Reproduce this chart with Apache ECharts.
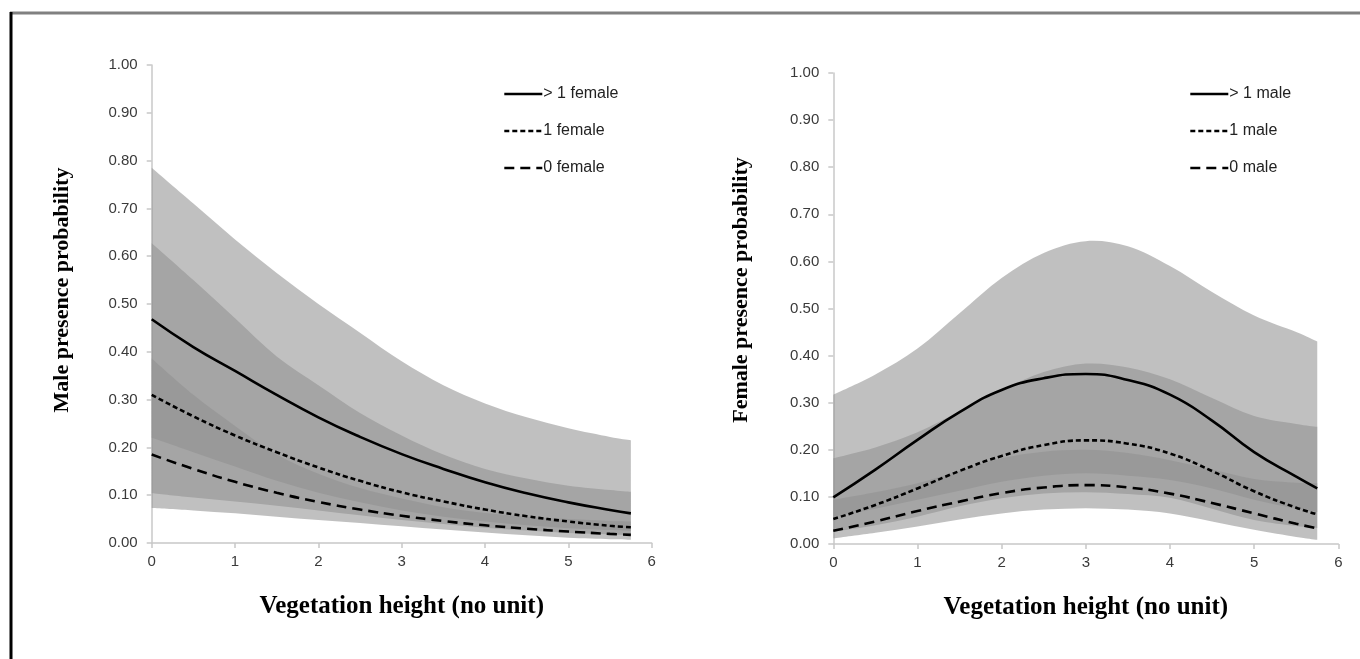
<!DOCTYPE html>
<html>
<head>
<meta charset="utf-8">
<script src="https://cdn.jsdelivr.net/npm/echarts@6/dist/echarts.min.js"></script>
<style>
html,body{margin:0;padding:0;background:#fff;}
#chart{width:1360px;height:659px;}
</style>
</head>
<body>
<div id="chart"></div>
<script>
// ---------- data ----------
const veg = [0, 0.5, 1, 1.5, 2, 2.5, 3, 3.5, 4, 4.5, 5, 5.5, 5.75];
const xTicks = [0, 1, 2, 3, 4, 5, 6];

// Left panel: male presence probability
const leftYTitle = 'Male presence probability';
const leftNames = ['> 1 female', '1 female', '0 female'];
const maleGt1Female = [0.468, 0.41, 0.36, 0.31, 0.263, 0.222, 0.186, 0.155, 0.127, 0.104, 0.085, 0.069, 0.062];
const male1Female   = [0.31, 0.265, 0.225, 0.19, 0.158, 0.13, 0.106, 0.087, 0.07, 0.056, 0.045, 0.036, 0.033];
const male0Female   = [0.185, 0.155, 0.128, 0.105, 0.086, 0.07, 0.057, 0.046, 0.037, 0.03, 0.024, 0.019, 0.017];
const ciGt1FemaleLow  = [0.22, 0.19, 0.16, 0.13, 0.105, 0.085, 0.068, 0.055, 0.045, 0.037, 0.031, 0.027, 0.025];
const ciGt1FemaleHigh = [0.785, 0.71, 0.635, 0.565, 0.5, 0.44, 0.38, 0.33, 0.292, 0.263, 0.24, 0.222, 0.215];
const ci1FemaleLow    = [0.104, 0.095, 0.087, 0.078, 0.068, 0.058, 0.048, 0.04, 0.032, 0.026, 0.021, 0.018, 0.017];
const ci1FemaleHigh   = [0.627, 0.55, 0.47, 0.39, 0.33, 0.272, 0.225, 0.185, 0.155, 0.135, 0.12, 0.111, 0.107];
const ci0FemaleLow    = [0.073, 0.068, 0.062, 0.055, 0.048, 0.042, 0.035, 0.028, 0.022, 0.016, 0.011, 0.008, 0.007];
const ci0FemaleHigh   = [0.386, 0.31, 0.245, 0.185, 0.145, 0.115, 0.093, 0.075, 0.063, 0.055, 0.05, 0.046, 0.045];

// Right panel: female presence probability
const rightYTitle = 'Female presence probability';
const rightNames = ['> 1 male', '1 male', '0 male'];
const femaleGt1Male = [0.099, 0.158, 0.221, 0.28, 0.327, 0.352, 0.361, 0.348, 0.317, 0.262, 0.195, 0.143, 0.118];
const female1Male   = [0.053, 0.083, 0.118, 0.155, 0.187, 0.21, 0.22, 0.213, 0.192, 0.155, 0.112, 0.077, 0.063];
const female0Male   = [0.028, 0.048, 0.07, 0.09, 0.108, 0.12, 0.125, 0.12, 0.107, 0.087, 0.065, 0.043, 0.033];
const ciGt1MaleLow  = [0.058, 0.075, 0.094, 0.113, 0.132, 0.145, 0.15, 0.145, 0.136, 0.118, 0.094, 0.075, 0.068];
const ciGt1MaleHigh = [0.317, 0.36, 0.415, 0.49, 0.565, 0.618, 0.643, 0.632, 0.59, 0.535, 0.485, 0.45, 0.43];
const ci1MaleLow    = [0.026, 0.04, 0.058, 0.08, 0.097, 0.107, 0.11, 0.106, 0.098, 0.075, 0.051, 0.038, 0.034];
const ci1MaleHigh   = [0.182, 0.205, 0.237, 0.282, 0.327, 0.365, 0.383, 0.375, 0.35, 0.31, 0.272, 0.255, 0.249];
const ci0MaleLow    = [0.012, 0.024, 0.037, 0.052, 0.065, 0.073, 0.076, 0.073, 0.065, 0.048, 0.03, 0.015, 0.009];
const ci0MaleHigh   = [0.094, 0.11, 0.129, 0.155, 0.182, 0.196, 0.2, 0.193, 0.178, 0.158, 0.138, 0.13, 0.129];

const xTitle = 'Vegetation height (no unit)';

// ---------- helpers ----------
const bandFill = 'rgba(145,145,145,0.57)';

function smoothSegs(p) {
  let d = '';
  for (let i = 0; i < p.length - 1; i++) {
    const p0 = p[i - 1] || p[i], p1 = p[i], p2 = p[i + 1], p3 = p[i + 2] || p[i + 1];
    const c1 = [p1[0] + (p2[0] - p0[0]) / 6, p1[1] + (p2[1] - p0[1]) / 6];
    const c2 = [p2[0] - (p3[0] - p1[0]) / 6, p2[1] - (p3[1] - p1[1]) / 6];
    d += ' C' + c1[0] + ',' + c1[1] + ' ' + c2[0] + ',' + c2[1] + ' ' + p2[0] + ',' + p2[1];
  }
  return d;
}

function band(idx, lo, hi) {
  return {
    type: 'custom', xAxisIndex: idx, yAxisIndex: idx, silent: true, z: 1,
    data: veg.map((x, i) => [x, lo[i], hi[i]]),
    encode: { x: 0, y: [1, 2] },
    renderItem: function (params, api) {
      if (params.dataIndexInside !== 0) return null;
      const n = params.dataInsideLength;
      const up = [], low = [];
      for (let i = 0; i < n; i++) {
        up.push(api.coord([api.value(0, i), api.value(2, i)]));
        low.push(api.coord([api.value(0, i), api.value(1, i)]));
      }
      const lowR = low.slice().reverse();
      const d = 'M' + up[0][0] + ',' + up[0][1] + smoothSegs(up) +
        ' L' + lowR[0][0] + ',' + lowR[0][1] + smoothSegs(lowR) + ' Z';
      return { type: 'path', shape: { pathData: d }, style: { fill: bandFill, stroke: null } };
    }
  };
}
function meanLine(idx, name, arr, dash) {
  return { type: 'line', name, xAxisIndex: idx, yAxisIndex: idx,
    data: veg.map((x, i) => [x, arr[i]]), smooth: 0.5,
    symbol: 'none', z: 5,
    itemStyle: { color: '#000' },
    lineStyle: { color: '#000', width: 2.6, type: dash } };
}

const tickFont = { fontFamily: 'Liberation Sans, sans-serif', fontSize: 15, color: '#3a3a3a' };
const titleFont = { fontFamily: 'Liberation Serif, Times New Roman, serif', fontWeight: 'bold', color: '#000' };
const axisGray = '#c8c8c8';

function xAxis(idx) {
  return { type: 'value', gridIndex: idx, min: xTicks[0], max: xTicks[xTicks.length - 1], interval: 1,
    name: xTitle, nameLocation: 'middle', nameGap: 51, nameTextStyle: Object.assign({ fontSize: 25 }, titleFont),
    axisLine: { lineStyle: { color: axisGray, width: 1.5 } },
    axisTick: { show: true, length: 5, lineStyle: { color: axisGray, width: 1.5 } },
    axisLabel: Object.assign({ margin: 11 }, tickFont),
    splitLine: { show: false } };
}
function yAxis(idx) {
  return { type: 'value', gridIndex: idx, min: 0, max: 1, interval: 0.1,
    axisLine: { show: true, lineStyle: { color: axisGray, width: 1.5 } },
    axisTick: { show: true, length: 5, lineStyle: { color: axisGray, width: 1.5 } },
    axisLabel: Object.assign({ margin: 14, formatter: v => v.toFixed(2) }, tickFont),
    splitLine: { show: false } };
}
function yTitle(text, x, y) {
  return { type: 'text', x, y, rotation: Math.PI / 2,
    style: { text, fontSize: 22, align: 'center', verticalAlign: 'middle', fill: '#000',
      fontFamily: titleFont.fontFamily, fontWeight: 'bold' } };
}

const legendText = { fontFamily: 'Liberation Sans, sans-serif', fontSize: 16, color: '#222', padding: [0, 0, 0, -4] };
const legendBase = { orient: 'vertical', top: 81, itemWidth: 38, itemHeight: 14, itemGap: 21,
  textStyle: legendText, selectedMode: false, itemStyle: { opacity: 0 }, lineStyle: { width: 2.6 } };

const option = {
  animation: false,
  backgroundColor: '#fff',
  grid: [
    { left: 151.7, top: 65, width: 500, height: 478 },
    { left: 833.3, top: 73, width: 505, height: 471 }
  ],
  xAxis: [xAxis(0), xAxis(1)],
  yAxis: [yAxis(0), yAxis(1)],
  legend: [
    Object.assign({ data: leftNames, left: 498 }, legendBase),
    Object.assign({ data: rightNames, left: 1184 }, legendBase)
  ],
  graphic: [
    { type: 'line', shape: { x1: 10, y1: 13, x2: 1360, y2: 13 }, style: { stroke: '#808080', lineWidth: 3 } },
    { type: 'line', shape: { x1: 11, y1: 12, x2: 11, y2: 659 }, style: { stroke: '#000', lineWidth: 3 } },
    yTitle(leftYTitle, 62, 290),
    yTitle(rightYTitle, 741, 290)
  ],
  series: [
    band(0, ciGt1FemaleLow, ciGt1FemaleHigh),
    band(0, ci1FemaleLow, ci1FemaleHigh),
    band(0, ci0FemaleLow, ci0FemaleHigh),
    meanLine(0, leftNames[0], maleGt1Female, 'solid'),
    meanLine(0, leftNames[1], male1Female, [5, 3]),
    meanLine(0, leftNames[2], male0Female, [10, 6]),
    band(1, ciGt1MaleLow, ciGt1MaleHigh),
    band(1, ci1MaleLow, ci1MaleHigh),
    band(1, ci0MaleLow, ci0MaleHigh),
    meanLine(1, rightNames[0], femaleGt1Male, 'solid'),
    meanLine(1, rightNames[1], female1Male, [5, 3]),
    meanLine(1, rightNames[2], female0Male, [10, 6])
  ]
};

const chart = echarts.init(document.getElementById('chart'), null, { renderer: 'canvas' });
chart.setOption(option);
</script>
</body>
</html>
